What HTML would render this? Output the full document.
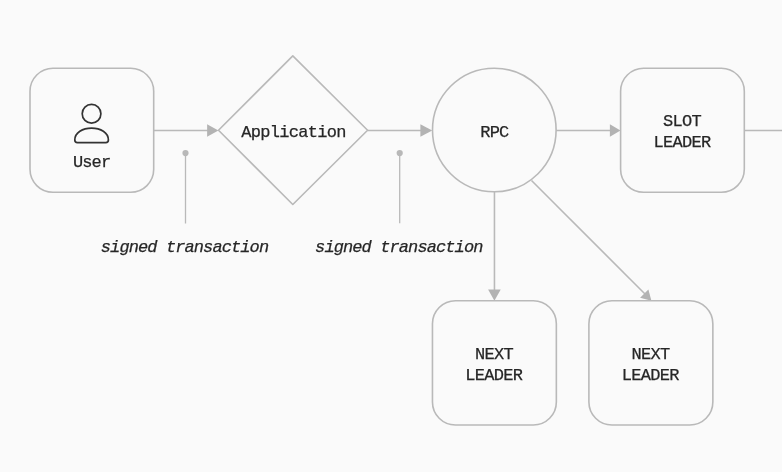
<!DOCTYPE html>
<html>
<head>
<meta charset="utf-8">
<style>
  html, body { margin: 0; padding: 0; }
  body { width: 782px; height: 472px; overflow: hidden; background: #fafafa; }
  svg { display: block; position: absolute; left: 0; top: 0; will-change: transform; }
  text { font-family: "Liberation Mono", monospace; font-size: 17px; letter-spacing: -0.7px; fill: #262626; stroke: #262626; stroke-width: 0.25px; text-anchor: middle; }
  .it { font-style: italic; letter-spacing: -0.9px; }
  .ln { fill: none; stroke: #b9b9b9; stroke-width: 1.6; }
  .ah { fill: #b3b3b3; stroke: none; }
  .ic { fill: none; stroke: #333; stroke-width: 1.7; stroke-linejoin: round; }
</style>
</head>
<body>
<svg width="782" height="472" viewBox="0 0 782 472">
  <rect x="0" y="0" width="782" height="472" fill="#fafafa"/>

  <!-- connectors -->
  <line class="ln" x1="153.7" y1="130.5" x2="208" y2="130.5"/>
  <polygon class="ah" points="207.1,124.2 218.4,130.5 207.1,136.8"/>
  <line class="ln" x1="367.6" y1="130.5" x2="421" y2="130.5"/>
  <polygon class="ah" points="420.4,124.2 432.2,130.5 420.4,136.8"/>
  <line class="ln" x1="556.1" y1="130.5" x2="611" y2="130.5"/>
  <polygon class="ah" points="609.9,124.3 620.5,130.5 609.9,136.8"/>
  <line class="ln" x1="744.3" y1="130.5" x2="782" y2="130.5"/>

  <line class="ln" x1="494.45" y1="191.7" x2="494.45" y2="290"/>
  <polygon class="ah" points="488.1,289.6 500.7,289.6 494.4,300.8"/>
  <line class="ln" x1="531.5" y1="180.5" x2="645" y2="294"/>
  <polygon class="ah" points="651.4,300.7 648.4,289.4 640.1,297.7"/>

  <!-- annotation stems -->
  <line class="ln" x1="185.5" y1="153" x2="185.5" y2="223.5" style="stroke-width:1.3"/>
  <circle class="ah" cx="185.5" cy="153.1" r="3.1" style="fill:#b8b8b8"/>
  <line class="ln" x1="399.7" y1="153" x2="399.7" y2="223.3" style="stroke-width:1.3"/>
  <circle class="ah" cx="399.7" cy="153.1" r="3.1" style="fill:#b8b8b8"/>

  <!-- shapes -->
  <rect class="ln" x="30" y="68.3" width="123.7" height="124" rx="23" ry="23"/>
  <polygon class="ln" style="stroke-linejoin:round" points="292.8,55.9 367.6,130.3 292.8,204.5 218.5,130.3"/>
  <circle class="ln" cx="494.3" cy="130" r="61.8"/>
  <rect class="ln" x="620.6" y="68.3" width="123.7" height="124" rx="23" ry="23"/>
  <rect class="ln" x="432.45" y="300.8" width="123.9" height="124.2" rx="23" ry="23"/>
  <rect class="ln" x="588.9" y="300.8" width="123.95" height="124.2" rx="23" ry="23"/>

  <!-- user icon -->
  <circle class="ic" cx="91.55" cy="113.7" r="9.35"/>
  <path class="ic" d="M77.4 142.6 H105.8 A2.6 2.6 0 0 0 108.4 140 C108.4 132.6 100.5 128.1 91.6 128.1 C82.7 128.1 74.8 132.6 74.8 140 A2.6 2.6 0 0 0 77.4 142.6 Z"/>

  <!-- labels -->
  <text x="91.6" y="167.2" style="letter-spacing:-0.9px">User</text>
  <text x="293.5" y="136.8">Application</text>
  <text x="494.3" y="136.7" style="letter-spacing:-0.9px">RPC</text>
  <text x="682.0" y="126.3">SLOT</text>
  <text x="681.9" y="146.9">LEADER</text>
  <text x="493.9" y="359.0">NEXT</text>
  <text x="493.8" y="379.7">LEADER</text>
  <text x="650.5" y="358.9">NEXT</text>
  <text x="650.3" y="379.6">LEADER</text>
  <text class="it" x="184.5" y="252.1">signed transaction</text>
  <text class="it" x="398.8" y="252.1">signed transaction</text>
</svg>
</body>
</html>
